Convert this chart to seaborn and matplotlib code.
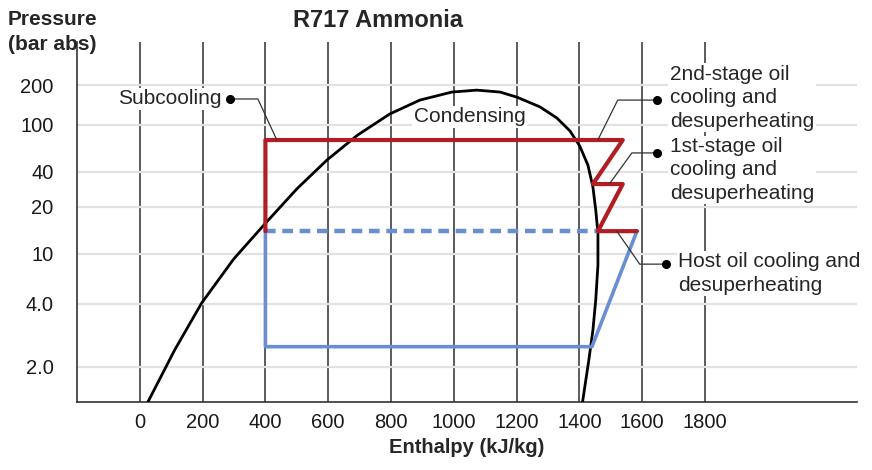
import numpy as np
import matplotlib
matplotlib.use("Agg")
import matplotlib.pyplot as plt
import seaborn as sns

# saturation dome of R717 (enthalpy kJ/kg, pressure bar abs)
dome_h = [19, 111, 197, 299, 401, 500, 596, 694, 796, 892, 994, 1073, 1147, 1201, 1274, 1328,
          1370, 1401, 1427, 1443, 1452, 1459, 1459, 1452, 1443, 1430, 1408]
dome_p = [1.3, 2.41, 4.07, 9.12, 15.8, 28.6, 50.5, 82.3, 121, 154, 177, 183, 177, 162, 137, 113,
          89, 66.4, 45.8, 29.7, 19.1, 13.6, 8.17, 4.31, 3.0, 2.16, 1.3]

# two-stage cycle (red) and single-stage cycle (blue)
red_h = [400, 400, 1538, 1443, 1538, 1459, 1583]
red_p = [14, 74.6, 74.6, 31.5, 31.5, 14, 14]
blue_h = [1583, 1440, 400, 400]
blue_p = [14, 2.5, 2.5, 14]
dash_h = [400, 1459]
dash_p = [14, 14]

x_ticks = [0, 200, 400, 600, 800, 1000, 1200, 1400, 1600, 1800]
y_ticks = [2, 4, 10, 20, 40, 100, 200]
y_labels = ["2.0", "4.0", "10", "20", "40", "100", "200"]

sns.set_style("white")
plt.rcParams["font.family"] = ["Liberation Sans", "DejaVu Sans"]

RED = "#b11d23"
BLUE = "#6a8ed3"

# the pressure axis of the original is a hand-drawn log scale, so map it piecewise
knot_p = np.log10([1, 2, 4, 10, 20, 40, 100, 200, 1000])
knot_u = np.array([-28, 35, 98, 148, 195, 230, 277, 317, 410])


def fwd(p):
    return np.interp(np.log10(np.clip(p, 1e-6, None)), knot_p, knot_u)


def inv(u):
    return 10 ** np.interp(u, knot_u, knot_p)


fig = plt.figure(figsize=(8.72, 4.70), dpi=100)
ax = fig.add_axes([77 / 872, 68 / 470, 780 / 872, 360 / 470])
ax.set_yscale("function", functions=(fwd, inv))

sns.lineplot(x=dome_h, y=dome_p, sort=False, estimator=None, color="black", lw=2.0, ax=ax, zorder=3)
sns.lineplot(x=dash_h, y=dash_p, sort=False, estimator=None, color=BLUE, lw=3.2, ax=ax, zorder=4)
ax.lines[-1].set_dashes([2.4, 1.5])
sns.lineplot(x=blue_h, y=blue_p, sort=False, estimator=None, color=BLUE, lw=2.6, ax=ax, zorder=4)
sns.lineplot(x=red_h, y=red_p, sort=False, estimator=None, color=RED, lw=3.0, ax=ax, zorder=5)

ax.set_xlim(-200, 2284)
ax.set_ylim(1.36, 421)
ax.set_xticks(x_ticks)
ax.set_xticklabels([str(v) for v in x_ticks])
ax.set_yticks(y_ticks)
ax.set_yticklabels(y_labels)
ax.minorticks_off()
ax.tick_params(axis="both", length=0, labelsize=14.5, colors="#1a1a1a")
ax.tick_params(axis="y", pad=17)
ax.tick_params(axis="x", pad=8)

ax.set_axisbelow(True)
ax.grid(axis="x", color="#3f3f3f", lw=1.2)
ax.grid(axis="y", color="#e2e2e2", lw=1.6)
for s in ["top", "right"]:
    ax.spines[s].set_visible(False)
for s in ["left", "bottom"]:
    ax.spines[s].set_color("#333333")
    ax.spines[s].set_linewidth(1.2)

ax.set_xlabel("Enthalpy (kJ/kg)", fontsize=14.5, fontweight="bold", labelpad=4)
ax.set_ylabel("")

# titles
fig.text(378 / 872, 1 - 27 / 470, "R717 Ammonia", ha="center", va="baseline", fontsize=17, fontweight="bold")
fig.text(8 / 872, 1 - 25 / 470, "Pressure", ha="left", va="baseline", fontsize=15, fontweight="bold")
fig.text(8 / 872, 1 - 50 / 470, "(bar abs)", ha="left", va="baseline", fontsize=15, fontweight="bold")

box = dict(facecolor="white", edgecolor="none", pad=1)

# callouts: dot -> elbow -> target
leaders = [
    ([287, 376, 436], [157, 157, 75]),
    ([1647, 1522, 1459], [154, 154, 75]),
    ([1647, 1567, 1497], [58, 58, 32]),
    ([1675, 1592, 1519], [8.3, 8.3, 14]),
]
for lh, lp in leaders:
    ax.plot(lh, lp, color="#333333", lw=0.9, zorder=6)
    ax.plot(lh[0], lp[0], "o", color="black", ms=5.5, zorder=7)

ax.text(261, 157, "Subcooling", ha="right", va="center", fontsize=15, bbox=box, zorder=6)
ax.text(1051, 115, "Condensing", ha="center", va="center", fontsize=15, bbox=box, zorder=2.5)
ax.text(1688, 160, "2nd-stage oil\ncooling and\ndesuperheating", ha="left", va="center",
        fontsize=15, bbox=box, zorder=6, linespacing=1.3)
ax.text(1688, 41.6, "1st-stage oil\ncooling and\ndesuperheating", ha="left", va="center",
        fontsize=15, bbox=box, zorder=6, linespacing=1.3)
ax.text(1714, 7.0, "Host oil cooling and\ndesuperheating", ha="left", va="center",
        fontsize=15, bbox=box, zorder=6, linespacing=1.3)

fig.savefig("out.png", dpi=100)
